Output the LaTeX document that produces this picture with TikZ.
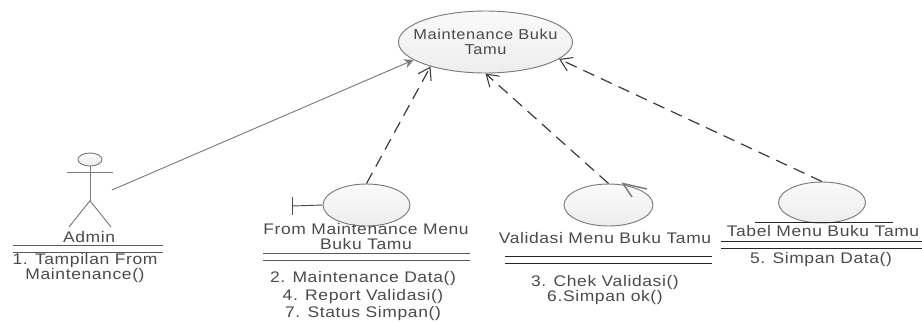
\documentclass[tikz,border=0pt]{standalone}
\usepackage{fontspec}
\setmainfont[LetterSpace=4,FakeStretch=1.14]{Liberation Sans}
\usetikzlibrary{arrows.meta,shapes.geometric}
\definecolor{ink}{HTML}{4A4A4A}
\definecolor{edge}{HTML}{7A7A7A}
\definecolor{dash}{HTML}{3A3A3A}
\tikzset{
  x=0.75pt,y=-0.75pt,
  lab/.style={font=\fontsize{11.5pt}{11.25pt}\selectfont,text=ink,inner sep=0pt,align=center},
  bub/.style={ellipse,draw=edge,line width=0.7pt,top color=black!2,bottom color=black!7,inner sep=0pt,text=ink},
  rulea/.style={line width=0.7pt,draw=black!65},
  ruleb/.style={line width=0.6pt,draw=black!85},
  fig/.style={line width=0.7pt,draw=edge},
  dep/.style={line width=0.9pt,draw=dash,dash pattern=on 9pt off 5.5pt,-{Straight Barb[length=8.5pt,width=11pt,line width=0.8pt]}},
  asc/.style={line width=0.7pt,draw=edge,-{Stealth[length=7pt,width=7pt]}}
}
\begin{document}
\begin{tikzpicture}
\useasboundingbox (0,0) rectangle (922,322);
% use case
\node[bub,minimum width=130.5pt,minimum height=46.5pt] (main) at (485.5,42) {};
\node[lab,font=\fontsize{10.8pt}{11.25pt}\selectfont] (mainlab) at (main.center) {Maintenance Buku\\Tamu};
% actor
\node[bub,minimum width=18pt,minimum height=9.75pt] (head) at (90,159.5) {};
\coordinate (armL) at (67,172.7);
\coordinate (armR) at (113,172.7);
\coordinate (hip) at (90,200.7);
\coordinate (legL) at (69,227);
\coordinate (legR) at (111,227);
\coordinate (adminport) at (112,190);
\draw[fig] (head.south) -- (hip);
\draw[fig] (armL) -- (armR);
\draw[fig] (legL) -- (hip) -- (legR);
\node[lab] (adminlab) at (89,237) {Admin};
\draw[rulea] (13,245) -- (163,245);
\draw[rulea] (13,252) -- (163,252);
\node[lab] (adminops) at (85,268.5) {1. Tampilan From\\Maintenance()};
% boundary
\node[bub,minimum width=65.25pt,minimum height=31.5pt] (bnd) at (366.5,205) {};
\coordinate (bndT) at (292,197);
\coordinate (bndB) at (292,215);
\coordinate (bndM) at (292,206);
\draw[fig,draw=black!70] (bndT) -- (bndB);
\draw[fig,draw=black!70] (bndM) -- (bnd.west);
\node[lab] (bndlab) at (366,237) {From Maintenance Menu\\Buku Tamu};
\draw[rulea] (263,253) -- (470,253);
\draw[rulea] (263,260) -- (470,260);
\node[lab] (bndop1) at (363,278.5) {2. Maintenance Data()};
\node[lab] (bndop2) at (363,296.5) {4. Report Validasi()};
\node[lab] (bndop3) at (363,314) {7. Status Simpan()};
% control
\node[bub,minimum width=66.75pt,minimum height=31.5pt] (ctl) at (608.5,205) {};
\coordinate (ctlA) at (647,189);
\coordinate (ctlB) at (623,183.5);
\coordinate (ctlC) at (632,197);
\draw[line width=1.1pt,draw=edge] (ctlA) -- (ctlB) -- (ctlC);
\node[lab] (ctllab) at (605,238.5) {Validasi Menu Buku Tamu};
\draw[ruleb] (505,256.5) -- (712,256.5);
\draw[ruleb] (505,263.5) -- (712,263.5);
\node[lab] (ctlop1) at (605,282.5) {3. Chek Validasi()};
\node[lab] (ctlop2) at (605,297.5) {6.Simpan ok()};
% entity
\node[bub,minimum width=65.25pt,minimum height=30.75pt] (ent) at (822,202.5) {};
\draw[ruleb] (755,222.7) -- (893,222.7);
\node[lab] (entlab) at (823,231.5) {Tabel Menu Buku Tamu};
\draw[ruleb] (721,241.5) -- (922,241.5);
\draw[ruleb] (721,248) -- (922,248);
\node[lab] (entop) at (821,260) {5. Simpan Data()};
% connectors
\draw[asc] (adminport) -- (main.194);
\draw[dep] (bnd.north) -- (main.-156);
\draw[dep] (ctl.north) -- (main.-90);
\draw[dep] (ent.north) -- (main.-13.7);
\end{tikzpicture}
\end{document}
